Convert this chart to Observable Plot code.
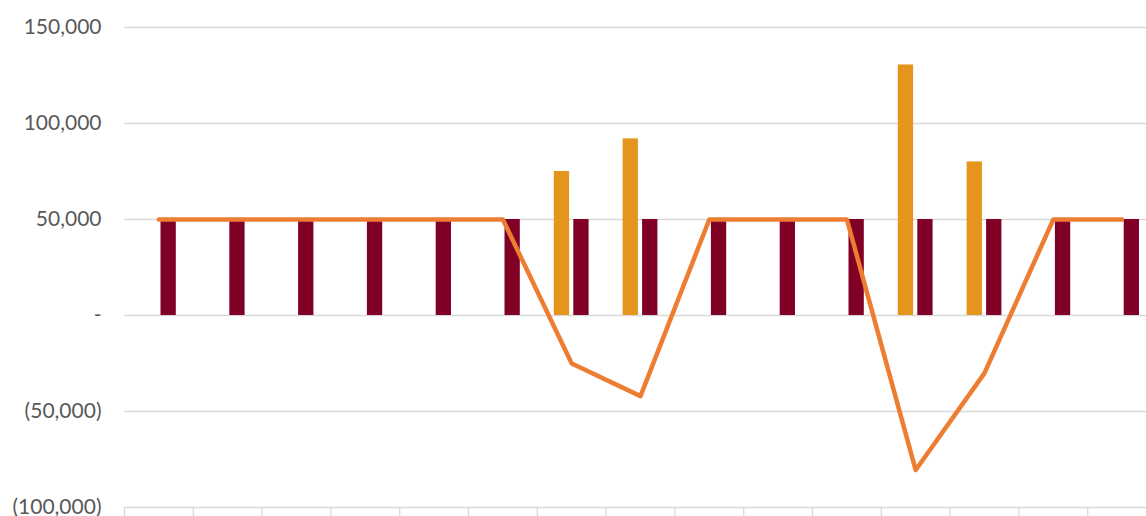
<!DOCTYPE html>
<html>
<head>
<meta charset="utf-8">
<script src="https://cdn.jsdelivr.net/npm/d3@7"></script>
<script src="https://cdn.jsdelivr.net/npm/@observablehq/plot@0.6"></script>
<style>
  html, body { margin: 0; padding: 0; background: #fff; overflow: hidden; }
  #chart svg { display: block; max-width: none !important; }
</style>
</head>
<body>
<div id="chart"></div>
<script>
// Fifteen periods along the horizontal axis
const categories = ["P01", "P02", "P03", "P04", "P05", "P06", "P07", "P08",
                    "P09", "P10", "P11", "P12", "P13", "P14", "P15"];

// Orange columns (only present in some periods)
const orangeValues = [null, null, null, null, null, null, 75000, 92000,
                      null, null, null, 130500, 80000, null, null];

// Dark red columns
const redValues = [50000, 50000, 50000, 50000, 50000, 50000, 50000, 50000,
                   50000, 50000, 50000, 50000, 50000, 50000, 50000];

// Orange line
const lineValues = [50000, 50000, 50000, 50000, 50000, 50000, -25000, -42000,
                    50000, 50000, 50000, -80500, -30000, 50000, 50000];

// Value-axis ticks
const yTicks = [-100000, -50000, 0, 50000, 100000, 150000];

const orangeRows = categories.map((c, i) => ({cat: c, value: orangeValues[i]})).filter(d => d.value != null);
const redRows = categories.map((c, i) => ({cat: c, value: redValues[i]}));
const lineRows = categories.map((c, i) => ({cat: c, value: lineValues[i]}));

const width = 1160, marginLeft = 124, marginRight = 4;
const band = (width - marginLeft - marginRight) / categories.length;

const fmt = d3.format(",");
const accounting = d => d === 0 ? "-" : d < 0 ? `(${fmt(-d)})` : fmt(d);

const chart = Plot.plot({
  width,
  height: 516,
  marginLeft,
  marginRight,
  marginTop: 27,
  marginBottom: 9,
  style: {fontFamily: "Lato, 'Open Sans', sans-serif", fontSize: "21px", color: "#595959", background: "#fff", maxWidth: "none"},
  x: {domain: categories, padding: 0, round: false, axis: null},
  y: {domain: [-100000, 150000], axis: null, label: null},
  marks: [
    // horizontal gridlines
    Plot.ruleY(yTicks.filter(d => d > -100000), {stroke: "#d9d9d9", strokeWidth: 1.3}),
    // category axis line and period separators
    Plot.ruleY([-100000], {stroke: "#d9d9d9", strokeWidth: 1.3}),
    Plot.ruleX(categories, {x: d => d, dx: -band / 2, y1: -100000, y2: -106000, stroke: "#d9d9d9", strokeWidth: 1.3, clip: false}),
    // columns
    Plot.barY(orangeRows, {x: "cat", y: "value", fill: "#e5941c", insetLeft: 17, insetRight: 36.5}),
    Plot.barY(redRows, {x: "cat", y: "value", fill: "#800026", insetLeft: 36.5, insetRight: 17}),
    // line
    Plot.line(lineRows, {x: "cat", y: "value", stroke: "#ed7d31", strokeWidth: 4.5, strokeLinecap: "round", strokeLinejoin: "round"}),
    // value axis
    Plot.axisY({ticks: yTicks, tickFormat: accounting, tickSize: 0, tickPadding: 23, label: null})
  ]
});

document.getElementById("chart").appendChild(chart);
</script>
</body>
</html>
